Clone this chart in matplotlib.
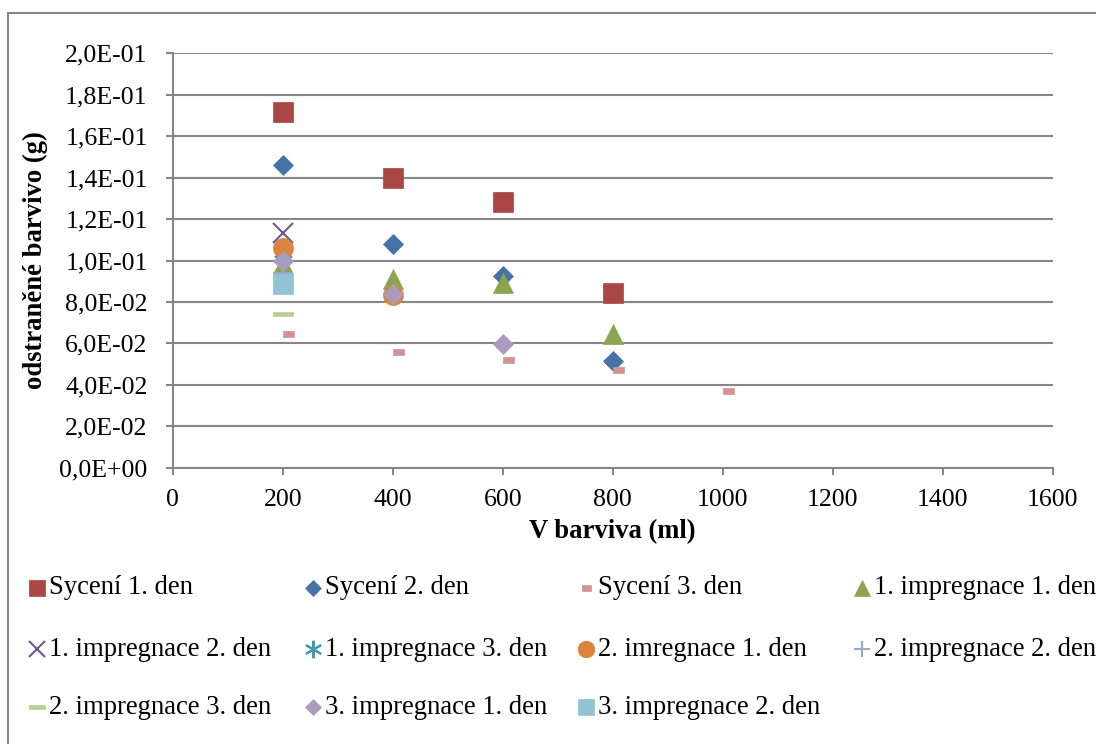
import matplotlib
matplotlib.use("Agg")
import matplotlib.pyplot as plt
from matplotlib.lines import Line2D
from matplotlib.patches import Rectangle
from matplotlib.ticker import FuncFormatter, MultipleLocator

plt.rcParams['font.family'] = ['Liberation Serif', 'DejaVu Serif']

# Removed dye (g) versus dye volume (ml) for each treatment step and day
series_names = [
    "Sycení 1. den", "Sycení 2. den", "Sycení 3. den", "1. impregnace 1. den",
    "1. impregnace 2. den", "1. impregnace 3. den", "2. imregnace 1. den", "2. impregnace 2. den",
    "2. impregnace 3. den", "3. impregnace 1. den", "3. impregnace 2. den",
]

syceni_1_x = [200, 400, 600, 800]
syceni_1_y = [0.1716, 0.1400, 0.1280, 0.0845]
syceni_2_x = [200, 400, 600, 800]
syceni_2_y = [0.1460, 0.1080, 0.0926, 0.0514]
syceni_3_x = [200, 400, 600, 800, 1000]
syceni_3_y = [0.0646, 0.0560, 0.0520, 0.0472, 0.0370]
impr1_den1_x = [200, 400, 600, 800]
impr1_den1_y = [0.0985, 0.0912, 0.0889, 0.0645]
impr1_den2_x = [200]
impr1_den2_y = [0.1134]
impr1_den3_x = [200]
impr1_den3_y = [0.1040]
impr2_den1_x = [200, 400]
impr2_den1_y = [0.1060, 0.0834]
impr2_den2_x = [200]
impr2_den2_y = [0.0940]
impr2_den3_x = [200]
impr2_den3_y = [0.0742]
impr3_den1_x = [200, 400, 600]
impr3_den1_y = [0.1000, 0.0838, 0.0598]
impr3_den2_x = [200]
impr3_den2_y = [0.0887]

x_ticks = [0, 200, 400, 600, 800, 1000, 1200, 1400, 1600]

# custom bar markers: long dash (centred) and short dash (starting at the point)
long_dash = [(-1, -0.24), (1, -0.24), (1, 0.24), (-1, 0.24), (-1, -0.24)]
short_dash = [(0, -0.3), (1, -0.3), (1, 0.3), (0, 0.3), (0, -0.3)]

# ms = marker size in the plot, lms = marker size in the legend
styles = [
    dict(x=syceni_1_x, y=syceni_1_y, marker='s', ms=14.2, lms=11.5, color='#AA4643'),
    dict(x=syceni_2_x, y=syceni_2_y, marker='D', ms=10.2, lms=8.3, color='#4572A7'),
    dict(x=syceni_3_x, y=syceni_3_y, marker=short_dash, ms=16, lms=13, color='#D19392'),
    dict(x=impr1_den1_x, y=impr1_den1_y, marker='^', ms=14.4, lms=12, color='#89A54E'),
    dict(x=impr1_den2_x, y=impr1_den2_y, marker='x', ms=14, lms=11.5, color='#71588F', mew=1.5),
    dict(x=impr1_den3_x, y=impr1_den3_y, marker=(6, 2, 0), ms=14, lms=12.5, color='#4198AF', mew=1.5),
    dict(x=impr2_den1_x, y=impr2_den1_y, marker='o', ms=14.4, lms=12, color='#DB843D'),
    dict(x=impr2_den2_x, y=impr2_den2_y, marker='+', ms=14, lms=12, color='#93A9CF', mew=1.5),
    dict(x=impr2_den3_x, y=impr2_den3_y, marker=long_dash, ms=14.4, lms=11.5, color='#B9CD96'),
    dict(x=impr3_den1_x, y=impr3_den1_y, marker='D', ms=10.2, lms=8.3, color='#A99BBD'),
    dict(x=impr3_den2_x, y=impr3_den2_y, marker='s', ms=14.2, lms=11.5, color='#92C3D4'),
]

W, H = 1096, 744
fig = plt.figure(figsize=(W / 100, H / 100), dpi=100)
fig.patch.set_facecolor('white')

# chart frame
fig.add_artist(Rectangle((8 / W, -0.1), 1.5, 1 - 13 / H + 0.1, transform=fig.transFigure,
                         fill=False, edgecolor='#868686', linewidth=1.5))

ax = fig.add_axes([172.7 / W, 1 - 467.7 / H, 880 / W, 414.4 / H])
for st in styles:
    ax.plot(st['x'], st['y'], linestyle='none', marker=st['marker'], markersize=st['ms'],
            color=st['color'], markeredgecolor=st['color'], markeredgewidth=st.get('mew', 0.5),
            clip_on=False)

ax.set_xlim(0, 1600)
ax.set_ylim(0, 0.2)
ax.set_xticks(x_ticks)
ax.yaxis.set_major_locator(MultipleLocator(0.02))
ax.yaxis.set_major_formatter(FuncFormatter(lambda v, _: ("%.1E" % v).replace('.', ',')))
ax.grid(axis='y', color='#868686', linewidth=1.5)
ax.set_axisbelow(True)
for s in ('top', 'right'):
    ax.spines[s].set_visible(False)
for s in ('left', 'bottom'):
    ax.spines[s].set_color('#868686')
    ax.spines[s].set_linewidth(1.5)
ax.tick_params(axis='both', direction='out', length=5, width=1.5, color='#868686',
               labelsize=18.6, labelcolor='black')
ax.tick_params(axis='y', pad=13)
ax.tick_params(axis='x', pad=10)

ax.set_xlabel("V barviva (ml)", fontsize=19.2, fontweight='bold', labelpad=6)
ax.set_ylabel("odstraněné barvivo (g)", fontsize=19.2, fontweight='bold', labelpad=8)

# legend, laid out in a 4-column grid below the plot
col_x = [37, 313, 586, 862]
row_y = [588, 649, 707]
for i, (name, st) in enumerate(zip(series_names, styles)):
    r, c = divmod(i, 4)
    mx, my = col_x[c], row_y[r]
    kx = mx - 4 if st['marker'] is short_dash else mx
    fig.add_artist(Line2D([kx / W], [1 - my / H], transform=fig.transFigure, linestyle='none',
                          marker=st['marker'], markersize=st['lms'], color=st['color'],
                          markeredgecolor=st['color'], markeredgewidth=st.get('mew', 0.5)))
    fig.text((mx + 12) / W, 1 - my / H, name, fontsize=19.2, va='center', ha='left')

fig.savefig("out.png", dpi=100)
